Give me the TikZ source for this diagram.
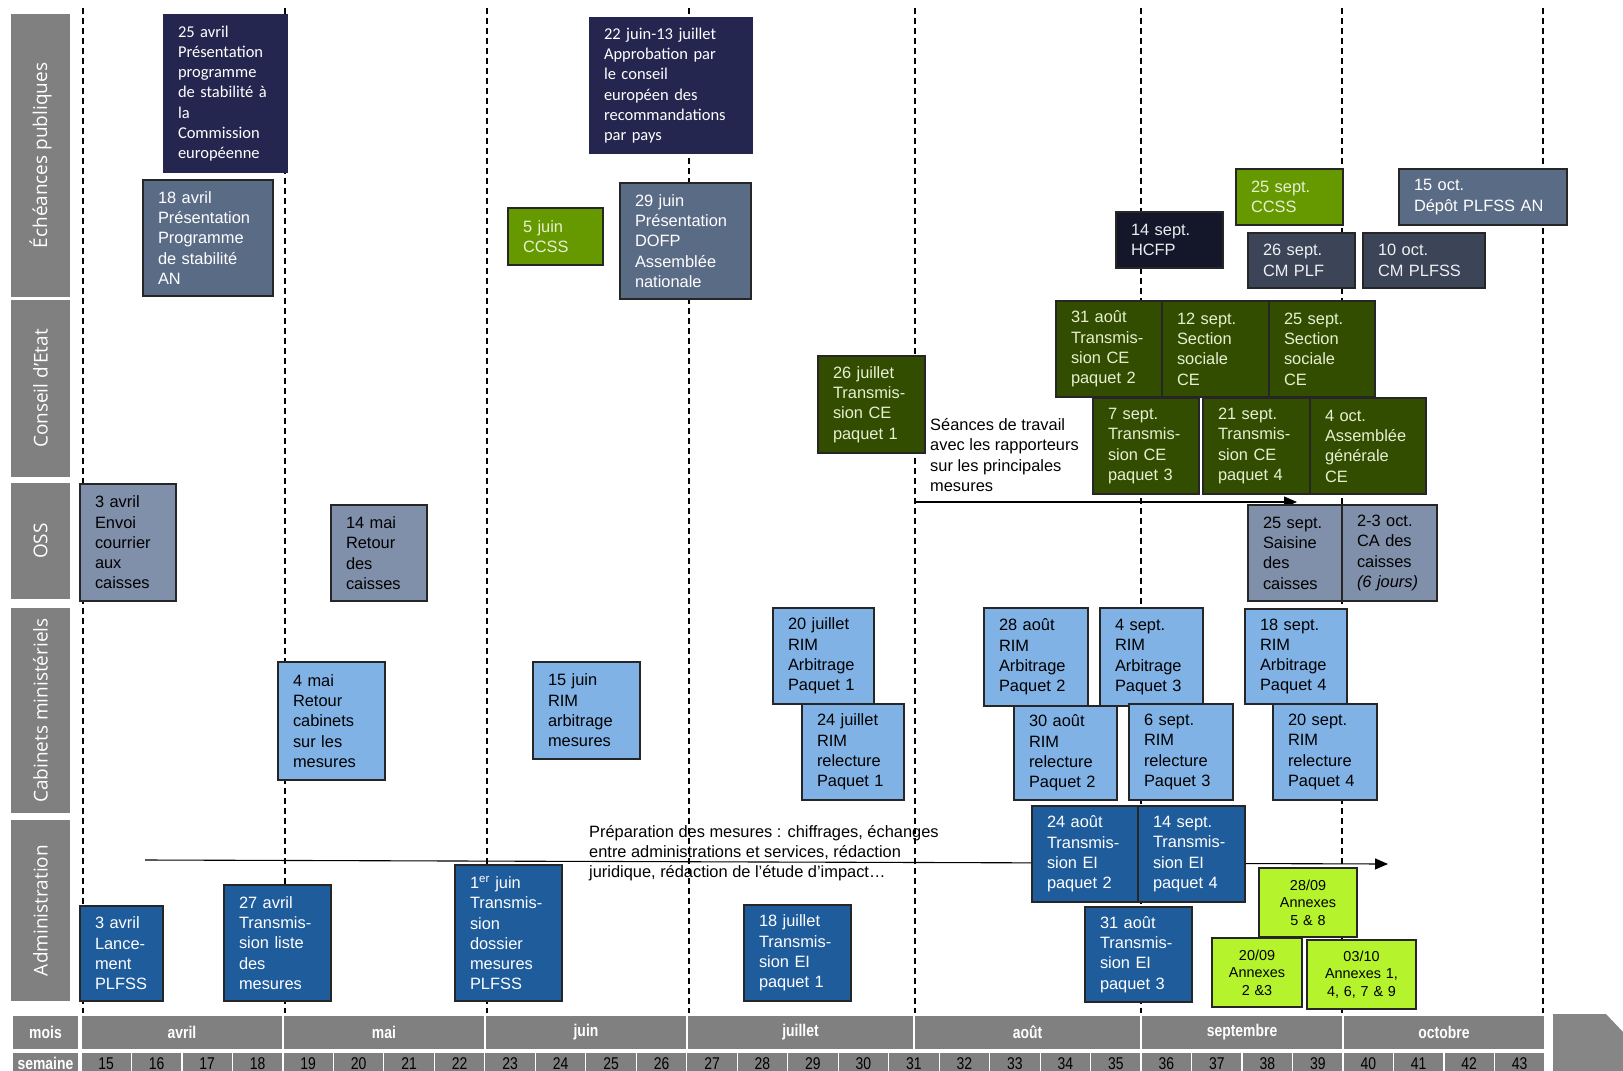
\documentclass[tikz,border=0pt]{standalone}
\usepackage{fontspec}
\setmainfont{Liberation Sans}
\newfontfamily\candfont{Carlito}
\newfontfamily\lanefont{Open Sans}
\newfontfamily\narrowfont[FakeStretch=0.82]{Liberation Sans}
\usetikzlibrary{positioning,arrows.meta}

\definecolor{navyc}{HTML}{25264F}
\definecolor{slatec}{HTML}{5A6B86}
\definecolor{dslatec}{HTML}{3B4557}
\definecolor{hcfpc}{HTML}{141729}
\definecolor{ccssc}{HTML}{669900}
\definecolor{cec}{HTML}{334D00}
\definecolor{ossc}{HTML}{8090AA}
\definecolor{cabc}{HTML}{80B2E6}
\definecolor{admc}{HTML}{1F5C9C}
\definecolor{annc}{HTML}{B5F42C}
\definecolor{greyc}{HTML}{808080}
\definecolor{paletxt}{HTML}{E6F0D2}

\newcommand{\evtfont}{\fontsize{16.4}{20.3}\selectfont}

\begin{document}
\begin{tikzpicture}[x=1pt,y=-1pt,
  evt/.style={anchor=north west,draw=black!85,line width=1.2pt,outer sep=0pt,
    inner xsep=15pt,inner ysep=0pt,align=left,font=\evtfont},
  sz/.style 2 args={text width=#1pt,minimum height=#2pt},
  navy/.style={evt,draw=none,fill=navyc,text=white,
    font=\candfont\fontsize{16.5}{20.2}\selectfont},
  slate/.style={evt,fill=slatec,text=white},
  dslate/.style={evt,fill=dslatec,text=white!90!slatec},
  hcfp/.style={evt,fill=hcfpc,text=white!88!slatec},
  ccss/.style={evt,fill=ccssc,text=paletxt},
  ce/.style={evt,fill=cec,text=paletxt},
  oss/.style={evt,fill=ossc},
  cab/.style={evt,fill=cabc},
  adm/.style={evt,fill=admc,text=white},
  annex/.style={evt,fill=annc,align=center,inner xsep=2pt,
    font=\fontsize{14.4}{17.5}\selectfont},
  lane/.style={fill=greyc,text=white,rotate=90,inner sep=0pt,
    font=\lanefont\fontsize{19}{22}\selectfont},
  note/.style={anchor=west,align=left,inner sep=0pt,font=\evtfont},
  vline/.style={dash pattern=on 6pt off 4pt,line width=1.3pt},
  flow/.style={-{Triangle[length=13pt,width=11pt]},line width=1.1pt},
  tl/.style={fill=greyc,draw=white,line width=1.2pt,outer sep=0pt,inner sep=0pt,
    text=white,font=\narrowfont\bfseries\fontsize{17}{17}\selectfont},
  wk/.style={tl,text=black,font=\narrowfont\fontsize{17}{17}\selectfont}]

  \useasboundingbox (0,0) rectangle (1623,1071);

  % lanes
  \node[lane,minimum width=283pt,minimum height=59pt] (lpub) at (40.5,155.5) {Échéances publiques};
  \node[lane,minimum width=177pt,minimum height=59pt] (lce)  at (40.5,388.5) {Conseil d’Etat};
  \node[lane,minimum width=116pt,minimum height=59pt] (loss) at (40.5,541)   {OSS};
  \node[lane,minimum width=205pt,minimum height=59pt] (lcab) at (40.5,710.5) {Cabinets ministériels};
  \node[lane,minimum width=181pt,minimum height=59pt] (ladm) at (40.5,910.5) {Administration};

  % month limits
  \foreach \x in {83,285,487,689,915,1141,1342,1543}
    \draw[vline] (\x,8) -- (\x,1013);

  % long arrows
  \coordinate (prepA) at (145,860);
  \coordinate (prepB) at (1388,864);
  \coordinate (seanA) at (915,502);
  \coordinate (seanB) at (1297,502);
  \draw[flow] (prepA) -- (prepB);
  \draw[flow] (seanA) -- (seanB);

  \node[note] (prep) at (589,853) {Préparation des mesures : chiffrages, échanges\\entre administrations et services, rédaction\\juridique, rédaction de l’étude d’impact…};
  \node[note] (sean) at (930,455) {Séances de travail\\avec les rapporteurs\\sur les principales\\mesures};

  % Echeances publiques
  \node[navy,sz={95}{159}]    (e1)  at (163,14)   {25 avril\\Présentation\\programme\\de~stabilité~à\\la\\Commission\\européenne};
  \node[slate,sz={100}{116}]  (e2)  at (143,180)  {18 avril\\Présentation\\Programme\\de stabilité\\AN};
  \node[navy,sz={134}{137}]   (e3)  at (589,17)   {22 juin-13 juillet\\Approbation par\\le conseil\\européen des\\recommandations\\par pays};
  \node[ccss,sz={65}{57}]     (e4)  at (508,208)  {5 juin\\CCSS};
  \node[slate,sz={101}{116}]  (e5)  at (620,183)  {29 juin\\Présentation\\DOFP\\Assemblée\\nationale};
  \node[hcfp,sz={77}{56}]     (e6)  at (1116,212) {14 sept.\\HCFP};
  \node[ccss,sz={77}{56}]     (e7)  at (1236,169) {25 sept.\\CCSS};
  \node[dslate,sz={77}{55}]   (e8)  at (1248,233) {26 sept.\\CM PLF};
  \node[dslate,sz={92}{55}]   (e9)  at (1363,233) {10 oct.\\CM PLFSS};
  \node[slate,sz={138}{56}]   (e10) at (1399,169) {15 oct.\\Dépôt~PLFSS~AN};

  % Conseil d'Etat
  \node[ce,sz={77}{97}]       (c1)  at (818,356)  {26 juillet\\Transmis-\\sion CE\\paquet 1};
  \node[ce,sz={76}{96}]       (c2)  at (1056,301) {31 août\\Transmis-\\sion CE\\paquet 2};
  \node[ce,sz={77}{96}]       (c3)  [right=0pt of c2] {12 sept.\\Section\\sociale\\CE};
  \node[ce,sz={76}{96}]       (c4)  [right=0pt of c3] {25 sept.\\Section\\sociale\\CE};
  \node[ce,sz={76}{96}]       (c5)  at (1093,398) {7 sept.\\Transmis-\\sion CE\\paquet 3};
  \node[ce,sz={77}{96}]       (c6)  at (1203,398) {21 sept.\\Transmis-\\sion CE\\paquet 4};
  \node[ce,sz={86}{96}]       (c7)  [right=0pt of c6] {4 oct.\\Assemblée\\générale\\CE};

  % OSS
  \node[oss,sz={66}{117}]     (o1)  at (80,484)   {3 avril\\Envoi\\courrier\\aux\\caisses};
  \node[oss,sz={66}{96}]      (o2)  at (331,505)  {14 mai\\Retour\\des\\caisses};
  \node[oss,sz={64}{96}]      (o3)  at (1248,505) {25 sept.\\Saisine\\des\\caisses};
  \node[oss,sz={65}{96}]      (o4)  [right=0pt of o3] {2-3 oct.\\CA des\\caisses\\\textit{(6~jours)}};

  % Cabinets ministeriels
  \node[cab,sz={77}{118}]     (k1)  at (278,662)  {4 mai\\Retour\\cabinets\\sur les\\mesures};
  \node[cab,sz={77}{97}]      (k2)  at (533,662)  {15 juin\\RIM\\arbitrage\\mesures};
  \node[cab,sz={71}{96}]      (k3)  at (773,608)  {20 juillet\\RIM\\Arbitrage\\Paquet 1};
  \node[cab,sz={72}{96}]      (k4)  at (802,704)  {24 juillet\\RIM\\relecture\\Paquet 1};
  \node[cab,sz={74}{98}]      (k5)  at (984,608)  {28 août\\RIM\\Arbitrage\\Paquet 2};
  \node[cab,sz={73}{98}]      (k6)  at (1100,608) {4 sept.\\RIM\\Arbitrage\\Paquet 3};
  \node[cab,sz={73}{94}]      (k7)  at (1014,706) {30 août\\RIM\\relecture\\Paquet 2};
  \node[cab,sz={74}{96}]      (k8)  at (1129,704) {6 sept.\\RIM\\relecture\\Paquet 3};
  \node[cab,sz={72}{95}]      (k9)  at (1245,609) {18 sept.\\RIM\\Arbitrage\\Paquet 4};
  \node[cab,sz={74}{96}]      (k10) at (1273,704) {20 sept.\\RIM\\relecture\\Paquet 4};

  % Administration
  \node[adm,sz={53}{95}]      (a1)  at (80,906)   {3 avril\\Lance-\\ment\\PLFSS};
  \node[adm,sz={77}{116}]     (a2)  at (224,885)  {27 avril\\Transmis-\\sion liste\\des\\mesures};
  \node[adm,sz={77}{136}]     (a3)  at (455,865)  {1\textsuperscript{er} juin\\Transmis-\\sion\\dossier\\mesures\\PLFSS};
  \node[adm,sz={77}{96}]      (a4)  at (744,905)  {18 juillet\\Transmis-\\sion EI\\paquet 1};
  \node[adm,sz={76}{96}]      (a5)  at (1032,806) {24 août\\Transmis-\\sion EI\\paquet 2};
  \node[adm,sz={77}{96}]      (a6)  [right=0pt of a5] {14 sept.\\Transmis-\\sion EI\\paquet 4};
  \node[adm,sz={77}{95}]      (a7)  at (1085,907) {31 août\\Transmis-\\sion EI\\paquet 3};
  \node[annex,sz={94}{69}]    (x1)  at (1259,868) {28/09\\Annexes\\5 \& 8};
  \node[annex,sz={86}{69}]    (x2)  at (1212,938) {20/09\\Annexes\\2 \&3};
  \node[annex,sz={105}{69}]   (x3)  at (1307,940) {03/10\\Annexes 1,\\4, 6, 7 \& 9};

  % time scale
  \node[tl,anchor=north west,minimum width=67pt,minimum height=35pt] (mois) at (12,1015) {mois};
  \node[tl,anchor=north west,minimum width=67pt,minimum height=23pt] (sem)  at (12,1052) {semaine};
  \foreach \m/\a/\b [count=\i] in {avril/81/283,mai/283/485,juin/485/687,juillet/687/914,
      août/914/1141,septembre/1141/1343,octobre/1343/1545}
    \node[tl,minimum width={\b-\a},minimum height=35pt] (m\i) at ({(\a+\b)/2},1032.5) {\m};
  \foreach \w in {15,...,43}
    \node[wk,minimum width=50.48pt,minimum height=23pt] (w\w) at ({81+(\w-14.5)*50.48},1063.5) {\w};
  \fill[greyc!95!white] (1553,1014) -- (1606,1014) -- (1623,1032) -- (1623,1071) -- (1553,1071) -- cycle;
\end{tikzpicture}
\end{document}
